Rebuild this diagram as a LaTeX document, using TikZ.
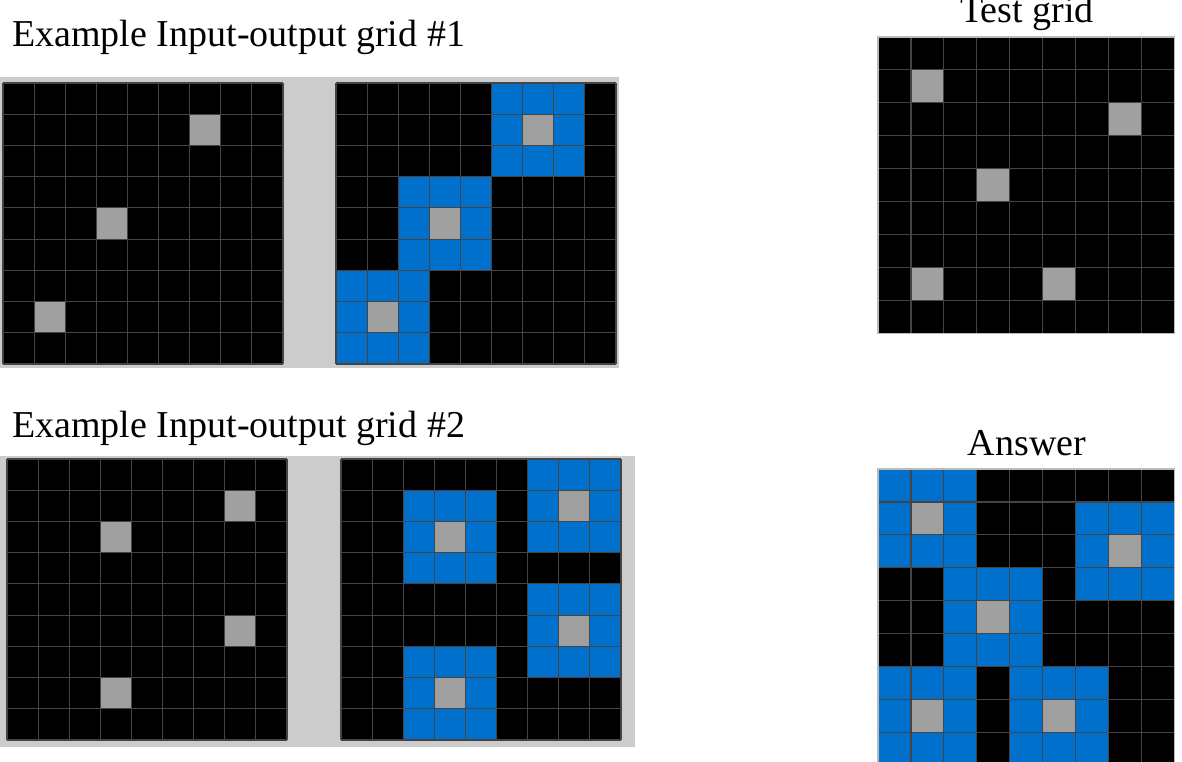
\documentclass[tikz,border=0pt]{standalone}
\usepackage{fontspec}
\setmainfont{Liberation Serif}
\definecolor{arcblue}{HTML}{0070CC}
\definecolor{arcgray}{HTML}{A0A0A0}
\definecolor{linegray}{HTML}{444444}
\definecolor{panelgray}{HTML}{CCCCCC}
\definecolor{edgegray}{HTML}{BBBBBB}
\begin{document}
\begin{tikzpicture}[x=1pt,y=-1pt,
  title/.style = {font=\fontsize{38}{42}\selectfont, inner sep=0pt},
  panel/.style = {fill=panelgray},
  cellblack/.style = {fill=black},
  cellblue/.style = {fill=arcblue},
  cellgray/.style = {fill=arcgray},
  gridline/.style = {draw=linegray, line width=1.2pt},
  gridedge/.style = {draw=edgegray, line width=1.2pt}]
  \useasboundingbox (0,0) rectangle (1182,762);
  \node[title, anchor=base west] (ex1) at (12,47) {Example Input-output grid \#1};
  \node[title, anchor=base west] (ex2) at (12,437) {Example Input-output grid \#2};
  \node[title, anchor=base] (test) at (1027,23) {Test grid};
  \node[title, anchor=base] (answer) at (1027,455) {Answer};
  \fill[panel] (0,77) rectangle (619,368);
  \fill[panel] (0,456) rectangle (635,747);
  \begin{scope}[shift={(3,83)}, x=31.11pt, y=-31.22pt]
    \fill[cellblack] (0,0) rectangle (9,9);
    \foreach \r/\c in {1/6,4/3,7/1} \fill[cellgray] (\c,\r) rectangle ++(1,1);
    \foreach \i in {0,...,9} \draw[gridline] (\i,0) -- (\i,9) (0,\i) -- (9,\i);
  \end{scope}
  \begin{scope}[shift={(336,83)}, x=31.11pt, y=-31.22pt]
    \fill[cellblack] (0,0) rectangle (9,9);
    \foreach \r/\c in {1/6,4/3,7/1} {
      \fill[cellblue] (\c-1,\r-1) rectangle ++(3,3);
      \fill[cellgray] (\c,\r) rectangle ++(1,1);
    }
    \foreach \i in {0,...,9} \draw[gridline] (\i,0) -- (\i,9) (0,\i) -- (9,\i);
  \end{scope}
  \begin{scope}[shift={(7,459)}, x=31.11pt, y=-31.22pt]
    \fill[cellblack] (0,0) rectangle (9,9);
    \foreach \r/\c in {1/7,2/3,5/7,7/3} \fill[cellgray] (\c,\r) rectangle ++(1,1);
    \foreach \i in {0,...,9} \draw[gridline] (\i,0) -- (\i,9) (0,\i) -- (9,\i);
  \end{scope}
  \begin{scope}[shift={(341,459)}, x=31.11pt, y=-31.22pt]
    \fill[cellblack] (0,0) rectangle (9,9);
    \foreach \r/\c in {1/7,2/3,5/7,7/3} {
      \fill[cellblue] (\c-1,\r-1) rectangle ++(3,3);
      \fill[cellgray] (\c,\r) rectangle ++(1,1);
    }
    \foreach \i in {0,...,9} \draw[gridline] (\i,0) -- (\i,9) (0,\i) -- (9,\i);
  \end{scope}
  \begin{scope}[shift={(878,37)}, x=32.9pt, y=-32.9pt]
    \fill[cellblack] (0,0) rectangle (9,9);
    \foreach \r/\c in {1/1,2/7,4/3,7/1,7/5} \fill[cellgray] (\c,\r) rectangle ++(1,1);
    \foreach \i in {0,...,9} \draw[gridline] (\i,0) -- (\i,9) (0,\i) -- (9,\i);
    \draw[gridedge] (0,0) rectangle (9,9);
  \end{scope}
  \begin{scope}[shift={(878,469)}, x=32.9pt, y=-32.9pt]
    \fill[cellblack] (0,0) rectangle (9,9);
    \foreach \r/\c in {1/1,2/7,4/3,7/1,7/5} {
      \fill[cellblue] (\c-1,\r-1) rectangle ++(3,3);
      \fill[cellgray] (\c,\r) rectangle ++(1,1);
    }
    \foreach \i in {0,...,9} \draw[gridline] (\i,0) -- (\i,9) (0,\i) -- (9,\i);
    \draw[gridedge] (0,0) rectangle (9,9);
  \end{scope}
\end{tikzpicture}
\end{document}
